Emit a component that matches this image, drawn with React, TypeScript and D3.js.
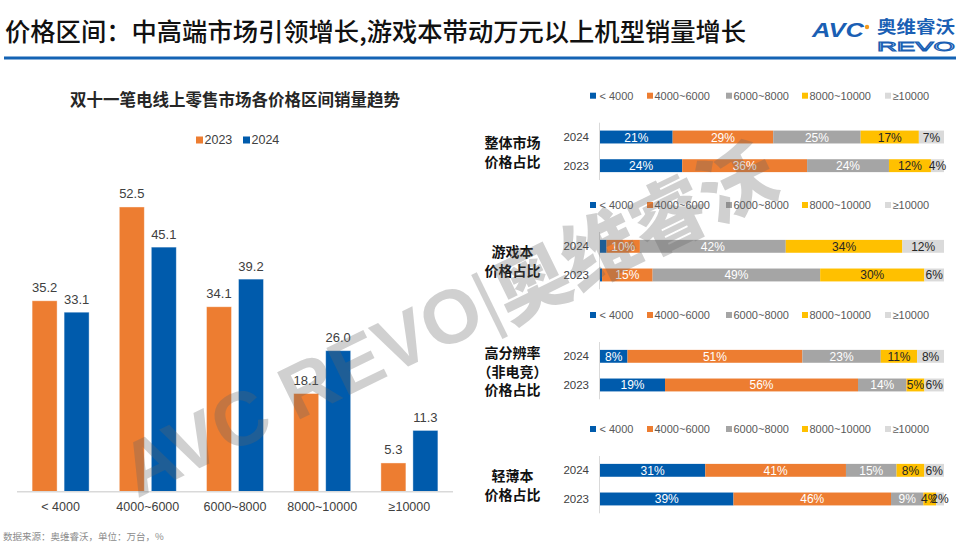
import React from "react";
import * as d3 from "d3";

// ---- Left chart data ----
const categories = ["< 4000", "4000~6000", "6000~8000", "8000~10000", "≥10000"];
const years = ["2023", "2024"];
const sales2023 = [35.2, 52.5, 34.1, 18.1, 5.3];
const sales2024 = [33.1, 45.1, 39.2, 26.0, 11.3];

// ---- Right panels data ----
const segNames = ["< 4000", "4000~6000", "6000~8000", "8000~10000", "≥10000"];
const barYears = ["2024", "2023"];
const panelNames = [
  ["整体市场", "价格占比"],
  ["游戏本", "价格占比"],
  ["高分辨率", "（非电竞）", "价格占比"],
  ["轻薄本", "价格占比"],
];
const overall2024 = [21.1, 29.2, 25.4, 16.9, 7.3];
const overall2023 = [23.9, 36.3, 23.8, 12.2, 3.8];
const gaming2024 = [1.9, 9.7, 42.4, 33.9, 12.1];
const gaming2023 = [0.6, 14.7, 48.7, 30.3, 5.7];
const hires2024 = [8.0, 50.9, 22.8, 10.6, 7.8];
const hires2023 = [18.9, 56.1, 14.1, 5.2, 5.7];
const thin2024 = [30.6, 40.9, 14.7, 8.1, 5.7];
const thin2023 = [38.8, 45.8, 9.4, 3.7, 2.3];

const panelRows = [
  [overall2024, overall2023],
  [gaming2024, gaming2023],
  [hires2024, hires2023],
  [thin2024, thin2023],
];

const BLUE = "#005BAC";
const ORANGE = "#ED7D31";
const segColors = [BLUE, ORANGE, "#A5A5A5", "#FFC000", "#DADADA"];
const segText = ["#fff", "#fff", "#fff", "#262626", "#262626"];
const yearColors = [ORANGE, BLUE];

const LATIN = "'Liberation Sans', Arial, 'Noto Sans CJK SC', sans-serif";
const CJK = "'Noto Sans CJK SC', 'Liberation Sans', sans-serif";

export default function App() {
  const W = 960, H = 546;
  // left chart scales
  const x0 = d3.scaleBand<string>().domain(categories).range([17, 453]).padding(0);
  const x1 = d3.scaleBand<string>().domain(years).range([0, x0.bandwidth()]).paddingInner(0.219).paddingOuter(0.472);
  const y = d3.scaleLinear().domain([0, 60]).range([491.7, 166.3]);
  const series = [sales2023, sales2024];

  // right panels
  const xr = d3.scaleLinear().domain([0, 100]).range([600, 944]);
  const panelTops = [122.7, 232, 342, 456];
  const legendX = [590, 647, 726, 802, 885];

  return (
    <svg width={W} height={H} style={{ position: "absolute", left: 0, top: 0, background: "#fff" }}>
      {/* header */}
      <text x={5} y={30} fontFamily={CJK} fontSize={25.3} fontWeight={500} fill="#111" dominantBaseline="central">
        价格区间：中高端市场引领增长,游戏本带动万元以上机型销量增长
      </text>
      <line x1={4} x2={956} y1={58} y2={58} stroke="#1463B4" strokeWidth={3} />
      {/* logo */}
      <g fill="#1A5FB4">
        <text x={812} y={37} fontFamily={LATIN} fontSize={20} fontWeight={900} fontStyle="italic" textLength={52} lengthAdjust="spacingAndGlyphs">AVC</text>
        <circle cx={867} cy={27} r={2.2} fill="#F39A1E" />
        <text x={877} y={33} fontFamily={CJK} fontSize={17} fontWeight={700} textLength={78} lengthAdjust="spacingAndGlyphs">奥维睿沃</text>
        <text x={877} y={50.5} fontFamily={LATIN} fontSize={12.5} fontWeight={400} textLength={78} lengthAdjust="spacingAndGlyphs" fill="none" stroke="#1A5FB4" strokeWidth={0.9}>REVO</text>
      </g>

      {/* left chart title */}
      <text x={235} y={99} textAnchor="middle" dominantBaseline="central" fontFamily={CJK} fontSize={16.5} fontWeight={700} fill="#262626">
        双十一笔电线上零售市场各价格区间销量趋势
      </text>
      {/* legend */}
      {years.map((yr, i) => (
        <g key={yr} transform={`translate(${196 + i * 47},140)`}>
          <rect x={0} y={-3.5} width={7} height={7} fill={yearColors[i]} />
          <text x={8.5} y={0} dominantBaseline="central" fontFamily={LATIN} fontSize={12.5} fill="#404040">{yr}</text>
        </g>
      ))}
      {/* bars */}
      {categories.map((c, ci) => (
        <g key={c} transform={`translate(${x0(c)},0)`}>
          {years.map((yr, si) => {
            const v = series[si][ci];
            const bx = x1(yr)!;
            return (
              <g key={yr}>
                <rect x={bx} y={y(v)} width={x1.bandwidth()} height={y(0) - y(v)} fill={yearColors[si]} stroke="#fff" strokeOpacity={0.5} strokeWidth={0.8} />
                <text x={bx + x1.bandwidth() / 2} y={y(v) - 13} textAnchor="middle" dominantBaseline="central" fontFamily={LATIN} fontSize={13} fill="#404040">
                  {d3.format(".1f")(v)}
                </text>
              </g>
            );
          })}
          <text x={x0.bandwidth() / 2} y={507} textAnchor="middle" dominantBaseline="central" fontFamily={LATIN} fontSize={12.5} fill="#404040">{c}</text>
        </g>
      ))}
      <line x1={17} x2={453} y1={y(0)} y2={y(0)} stroke="#D9D9D9" strokeWidth={1.5} />

      {/* right panels */}
      {panelRows.map((rows, pi) => {
        const top = panelTops[pi];
        const yb = d3.scaleBand<string>().domain(barYears).range([top, top + 57.3]).paddingInner(0.55).paddingOuter(0.275);
        const mid = top + 57.3 / 2;
        const names = panelNames[pi];
        return (
          <g key={pi}>
            {/* legend */}
            {segNames.map((s, si) => (
              <g key={s} transform={`translate(${legendX[si]},${top - 27})`}>
                <rect x={0} y={-3} width={6} height={6} fill={segColors[si]} />
                <text x={si === 0 ? 9.5 : 7.5} y={0} dominantBaseline="central" fontFamily={LATIN} fontSize={11} fill="#595959">{s}</text>
              </g>
            ))}
            {/* side label */}
            {names.map((n, ni) => (
              <text key={ni} x={512.5} y={mid + (ni - (names.length - 1) / 2) * 18.5} textAnchor="middle" dominantBaseline="central" fontFamily={CJK} fontSize={14} fontWeight={700} fill="#111">{n}</text>
            ))}
            {barYears.map((yr, ri) => {
              const vals = rows[ri];
              const total = d3.sum(vals);
              const xs = d3.scaleLinear().domain([0, total]).range(xr.range());
              const cum = d3.cumsum(vals);
              const by = yb(yr)!;
              return (
                <g key={yr}>
                  <text x={589} y={by + yb.bandwidth() / 2} textAnchor="end" dominantBaseline="central" fontFamily={LATIN} fontSize={11.5} fill="#404040">{yr}</text>
                  {vals.map((v, si) => {
                    const a = xs(cum[si] - v), b = xs(cum[si]);
                    return (
                      <g key={si}>
                        <rect x={a} y={by} width={b - a} height={yb.bandwidth()} fill={segColors[si]} />
                        {v >= 2 && (
                          <text x={(a + b) / 2} y={by + yb.bandwidth() / 2 + 0.5} textAnchor="middle" dominantBaseline="central" fontFamily={LATIN} fontSize={12} fill={segText[si]}>
                            {`${Math.round(v)}%`}
                          </text>
                        )}
                      </g>
                    );
                  })}
                </g>
              );
            })}
            <line x1={599.5} x2={599.5} y1={top} y2={top + 57.3} stroke="#D9D9D9" strokeWidth={1} />
          </g>
        );
      })}

      {/* footer */}
      <text x={3} y={536} dominantBaseline="central" fontFamily={CJK} fontSize={9.5} fill="#8C8C8C">数据来源：奥维睿沃，单位：万台，%</text>

      {/* watermark */}
      <g transform="translate(447,318) rotate(-26)" opacity={0.3} pointerEvents="none">
        <text x={0} y={0} textAnchor="middle" dominantBaseline="central" fontFamily={LATIN} fontSize={76} fontWeight={900} fill="#666">
          AVC REVO<tspan fontWeight={300}>|</tspan><tspan fontFamily={CJK} fontWeight={900}>奥维睿沃</tspan>
        </text>
      </g>
    </svg>
  );
}
